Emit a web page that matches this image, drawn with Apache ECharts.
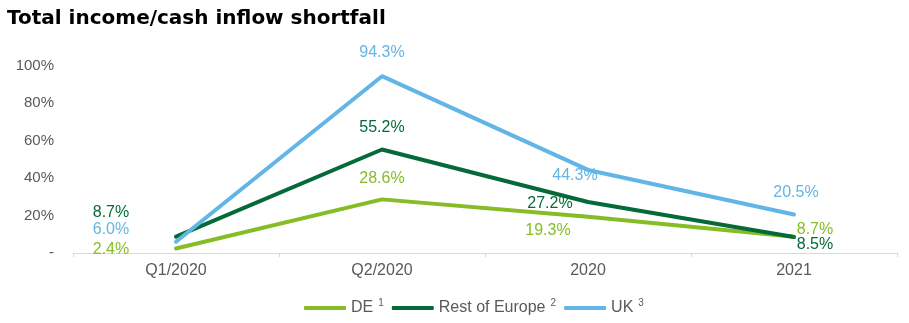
<!DOCTYPE html>
<html><head><meta charset="utf-8">
<script src="https://cdn.jsdelivr.net/npm/echarts@6/dist/echarts.min.js"></script>
<style>html,body{margin:0;padding:0;background:#fff}#c{width:909px;height:323px}</style>
</head><body><div id="c"></div>
<script>
const categories = ['Q1/2020', 'Q2/2020', '2020', '2021'];
const deValues = [2.4, 28.6, 19.3, 8.7];
const roeValues = [8.7, 55.2, 27.2, 8.5];
const ukValues = [6.0, 94.3, 44.3, 20.5];
const yTicks = [0, 20, 40, 60, 80, 100];

const seriesNames = ['DE', 'Rest of Europe', 'UK'];
const seriesSup = ['1', '2', '3'];
const colors = ['#86BC25', '#046A38', '#62B5E5'];

// label offsets per point (style only)
const offsets = {
  DE: [[-65, 1], [0, -21], [-40, 14], [21, -7]],
  'Rest of Europe': [[-65, -24], [0, -22], [-38, 2], [21, 8]],
  UK: [[-65, -12], [0, -24], [-13, 6], [2, -22]]
};

function mkSeries(name, vals, color) {
  return {
    name: name, type: 'line', symbol: 'circle', symbolSize: 2, showSymbol: true,
    lineStyle: {width: 4, color: color, cap: 'round'},
    itemStyle: {color: color},
    label: {show: true, position: 'inside', color: color,
      fontFamily: 'Liberation Sans', fontSize: 16,
      formatter: p => p.value.toFixed(1) + '%'},
    labelLayout: p => ({dx: offsets[name][p.dataIndex][0], dy: offsets[name][p.dataIndex][1], hideOverlap: false}),
    data: vals
  };
}

const chart = echarts.init(document.getElementById('c'), null, {renderer: 'canvas'});
chart.setOption({
  animation: false,
  title: {text: 'Total income/cash inflow shortfall', left: 2, top: 4,
    textStyle: {fontFamily: 'DejaVu Sans', fontWeight: 'bold', fontSize: 20, color: '#000'}},
  grid: {left: 73, right: 12, top: 65.5, bottom: 70},
  legend: {
    bottom: 2, left: 299, itemWidth: 42, itemHeight: 4, itemGap: 8,
    icon: 'roundRect',
    data: seriesNames.map((n, i) => ({name: n, itemStyle: {color: colors[i]}})),
    formatter: n => n + '{s|' + seriesSup[seriesNames.indexOf(n)] + '}',
    textStyle: {fontFamily: 'Liberation Sans', fontSize: 16, color: '#595959',
      rich: {s: {fontSize: 10, color: '#595959', verticalAlign: 'top', padding: [0, 0, 10, 5], fontFamily: 'Liberation Sans'}}}
  },
  xAxis: {
    type: 'category', data: categories, boundaryGap: true,
    axisLine: {lineStyle: {color: '#d9d9d9', width: 1}},
    axisTick: {show: true, length: 4, lineStyle: {color: '#d9d9d9'}},
    axisLabel: {fontFamily: 'Liberation Sans', fontSize: 16, color: '#595959', margin: 10}
  },
  yAxis: {
    type: 'value', min: yTicks[0], max: yTicks[yTicks.length - 1], interval: 20,
    axisLine: {show: false}, axisTick: {show: false}, splitLine: {show: false},
    axisLabel: {fontFamily: 'Liberation Sans', fontSize: 15, color: '#595959', margin: 19,
      formatter: v => v === 0 ? '-' : v + '%'}
  },
  series: [
    mkSeries('DE', deValues, colors[0]),
    mkSeries('Rest of Europe', roeValues, colors[1]),
    mkSeries('UK', ukValues, colors[2])
  ]
});
</script></body></html>
